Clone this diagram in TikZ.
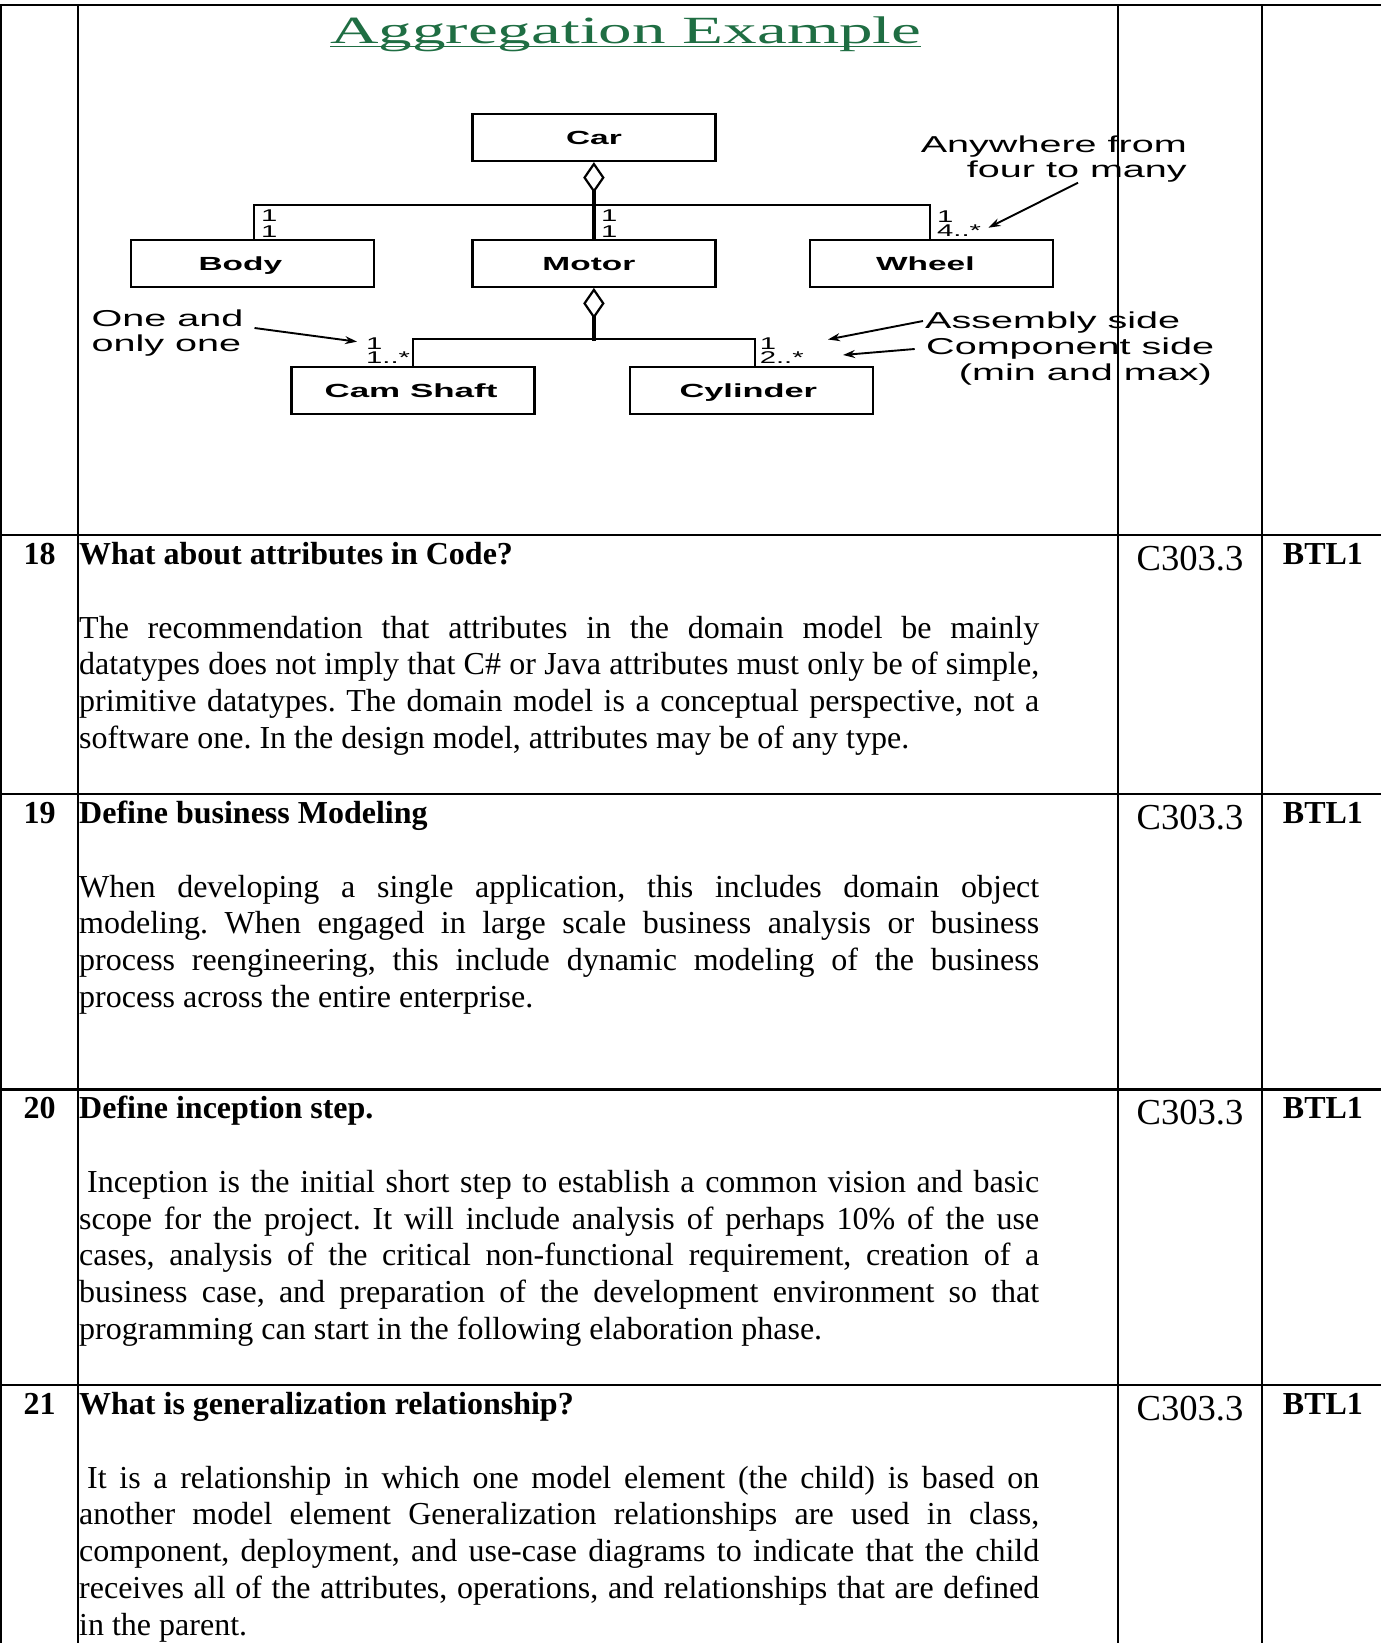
\documentclass[tikz,border=0pt]{standalone}
\usepackage{graphicx}
\usepackage{fontspec}
\setmainfont{Liberation Serif}
\newfontfamily\arialf{Liberation Sans}
\usetikzlibrary{arrows.meta}
\definecolor{titlegreen}{HTML}{1F6E43}
\newcommand\hs[2]{\scalebox{#1}[1]{#2}}
\newcommand\nsp{\spaceskip=0pt\xspaceskip=0pt\frenchspacing}
\newcommand\jl[1]{\makebox[960pt][s]{\nsp #1}}
\newcommand\lab[3]{\hspace*{#1}\hs{#2}{#3}\hspace*{-#1}}
\tikzset{
  tline/.style={line width=2.4pt},
  umlbox/.style={draw, line width=2.2pt, minimum width=243pt, minimum height=47pt, inner sep=0pt,
    font=\arialf\bfseries\fontsize{19}{19}\selectfont, text height=13.6pt, text depth=0pt},
  conn/.style={line width=2pt},
  aggline/.style={line width=3.2pt, {Diamond[open,length=31pt,width=21.4pt,line width=2.2pt]}-},
  mult/.style={anchor=base west, inner sep=0pt, font=\arialf\fontsize{17}{17}\selectfont},
  note/.style={inner sep=0pt, font=\arialf\fontsize{23}{23}\selectfont},
  notearrow/.style={line width=1.9pt, -{Stealth[length=12pt,width=8pt]}},
  numtxt/.style={anchor=base, inner sep=0pt, font=\bfseries\fontsize{32}{36.8}\selectfont},
  qtitle/.style={anchor=base west, inner sep=0pt, font=\bfseries\fontsize{32}{36.8}\selectfont},
  bodytxt/.style={anchor=base west, inner sep=0pt, text width=960pt, align=justify, font=\fontsize{32}{36.8}\selectfont},
  cotxt/.style={anchor=base, inner sep=0pt, font=\fontsize{36.6}{40}\selectfont},
  btltxt/.style={anchor=base west, inner sep=0pt, font=\bfseries\fontsize{32}{36.8}\selectfont}
}
\begin{document}
\begin{tikzpicture}[x=1pt,y=-1pt]
\fill[white] (0,0) rectangle (1381,1643);
\useasboundingbox (0,0) rectangle (1381,1643);

% ---------- diagram ----------
\node[anchor=base west, inner sep=0pt, text=titlegreen, font=\fontsize{38.5}{40}\selectfont] (title) at (330,43.5) {\resizebox{591pt}{\height}{Aggregation Example}};
\draw[titlegreen, line width=1.8pt] ([yshift=-3pt]title.base west) -- ([yshift=-3pt]title.base east);

\node[umlbox] (car) at (593.9,137.5) {\lab{0pt}{1.76}{Car}};
\node[umlbox] (body) at (252.4,263.3) {\lab{-12pt}{1.76}{Body}};
\node[umlbox] (motor) at (593.9,263.3) {\lab{-5pt}{1.76}{Motor}};
\node[umlbox] (wheel) at (931.3,263.3) {\lab{-6pt}{1.76}{Wheel}};
\node[umlbox, minimum height=46.7pt] (camshaft) at (413,390.7) {\lab{-2pt}{1.84}{Cam Shaft}};
\node[umlbox, minimum height=46.7pt] (cylinder) at (751.3,390.7) {\lab{-3pt}{1.81}{Cylinder}};

\draw[aggline] (car.south) -- (motor.north);
\draw[conn] ([xshift=2pt]body.north) -- ++(0,-34) -| ([xshift=-1pt]wheel.north);
\draw[aggline] (motor.south) -- ++(0,52.7) coordinate (mj);
\draw[conn] (camshaft.north) -- ++(0,-27.3) -| ([xshift=3.7pt]cylinder.north);

\node[mult] (mb1) at (261,221.7) {\hs{1.72}{1}};
\node[mult] (mb2) at (261,237) {\hs{1.72}{1}};
\node[mult] (mm1) at (601,221.7) {\hs{1.72}{1}};
\node[mult] (mm2) at (601,237) {\hs{1.72}{1}};
\node[mult] (mw1) at (937,222) {\hs{1.72}{1}};
\node[mult] (mw2) at (937,236.5) {\hs{1.72}{4..*}};
\node[mult] (mc1) at (366,349) {\hs{1.72}{1}};
\node[mult] (mc2) at (366,363) {\hs{1.72}{1..*}};
\node[mult] (my1) at (759.6,349) {\hs{1.72}{1}};
\node[mult] (my2) at (759.6,363) {\hs{1.72}{2..*}};

\node[note, anchor=base east] (n1a) at (1187,152) {\hs{1.72}{Anywhere from}};
\node[note, anchor=base east] (n1b) at (1187,177) {\hs{1.72}{four to many}};
\node[note, anchor=base west] (n2a) at (91.5,326) {\hs{1.72}{One and}};
\node[note, anchor=base west] (n2b) at (91.5,351.7) {\hs{1.72}{only one}};
\node[note, anchor=base west] (n3) at (925,328.3) {\hs{1.72}{Assembly side}};
\node[note, anchor=base west] (n4a) at (926,354) {\hs{1.72}{Component side}};
\node[note, anchor=base east] (n4b) at (1212,380) {\hs{1.72}{(min and max)}};

\coordinate (a1s) at (1078,182.7); \coordinate (a1e) at (988.5,227.7);
\coordinate (a2s) at (254.5,328);  \coordinate (a2e) at (357,341.7);
\coordinate (a3s) at (923,321);    \coordinate (a3e) at (828,339.5);
\coordinate (a4s) at (914.7,349);  \coordinate (a4e) at (843,355);
\draw[notearrow] (a1s) -- (a1e);
\draw[notearrow] (a2s) -- (a2e);
\draw[notearrow] (a3s) -- (a3e);
\draw[notearrow] (a4s) -- (a4e);

% ---------- table text ----------
\node[numtxt] (r18) at (39.5,564) {18};
\node[qtitle] (q18) at (79,564) {What about attributes in Code?};
\node[bodytxt] (b18) at (79,638) {\nsp\jl{The recommendation that attributes in the domain model be mainly}\\
\jl{datatypes does not imply that C\# or Java attributes must only be of simple,}\\
\jl{primitive datatypes. The domain model is a conceptual perspective, not a}\\
software one. In the design model, attributes may be of any type.};
\node[cotxt] (c18) at (1190,570) {C303.3};
\node[btltxt] (l18) at (1282.7,564) {BTL1};

\node[numtxt] (r19) at (39.5,823) {19};
\node[qtitle] (q19) at (79,823) {Define business Modeling};
\node[bodytxt] (b19) at (79,897) {\nsp\jl{When developing a single application, this includes domain object}\\
\jl{modeling. When engaged in large scale business analysis or business}\\
\jl{process reengineering, this include dynamic modeling of the business}\\
process across the entire enterprise.};
\node[cotxt] (c19) at (1190,829) {C303.3};
\node[btltxt] (l19) at (1282.7,823) {BTL1};

\node[numtxt] (r20) at (39.5,1118.3) {20};
\node[qtitle] (q20) at (79,1118.3) {Define inception step.};
\node[bodytxt] (b20) at (79,1192.3) {\nsp\jl{\hspace*{8pt}Inception is the initial short step to establish a common vision and basic}\\
\jl{scope for the project. It will include analysis of perhaps 10\% of the use}\\
\jl{cases, analysis of the critical non-functional requirement, creation of a}\\
\jl{business case, and preparation of the development environment so that}\\
programming can start in the following elaboration phase.};
\node[cotxt] (c20) at (1190,1124.3) {C303.3};
\node[btltxt] (l20) at (1282.7,1118.3) {BTL1};

\node[numtxt] (r21) at (39.5,1414) {21};
\node[qtitle] (q21) at (79,1414) {What is generalization relationship?};
\node[bodytxt] (b21) at (79,1488) {\nsp\jl{\hspace*{8pt}It is a relationship in which one model element (the child) is based on}\\
\jl{another model element Generalization relationships are used in class,}\\
\jl{component, deployment, and use-case diagrams to indicate that the child}\\
\jl{receives all of the attributes, operations, and relationships that are defined}\\
in the parent.};
\node[cotxt] (c21) at (1190,1420) {C303.3};
\node[btltxt] (l21) at (1282.7,1414) {BTL1};

% ---------- table rules ----------
\foreach \yy in {5,535,794,1089.3,1385} \draw[tline] (0,\yy) -- (1381,\yy);
\foreach \xx in {1.2,78,1118,1262} \draw[tline] (\xx,5) -- (\xx,1643);
\end{tikzpicture}
\end{document}
